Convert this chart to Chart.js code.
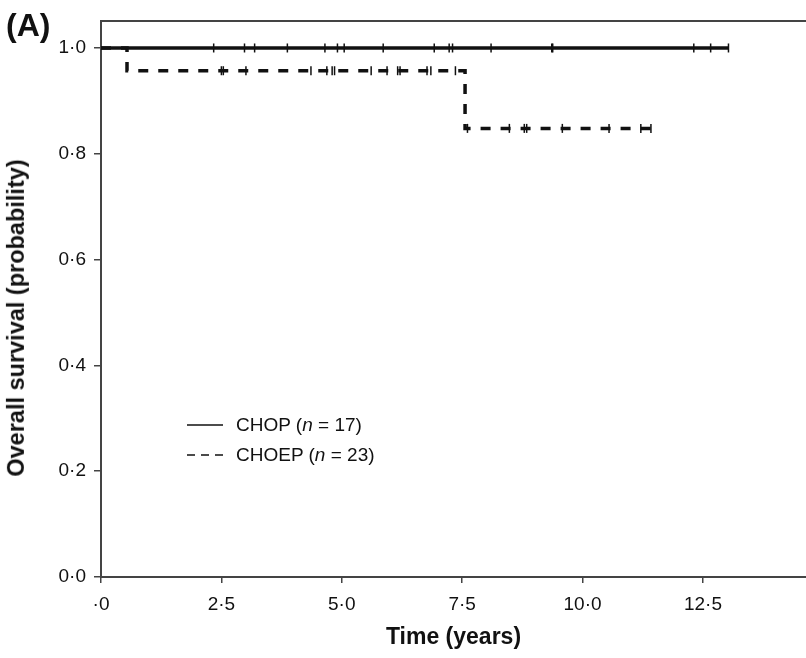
<!DOCTYPE html>
<html>
<head>
<meta charset="utf-8">
<script src="https://cdn.jsdelivr.net/npm/chart.js@4"></script>
<style>
  html, body { margin: 0; padding: 0; background: #fff; overflow: hidden; }
  #wrap { position: relative; width: 806px; height: 658px; font-family: "Liberation Sans", Arial, sans-serif; color: #111; }
  #km { display: block; }
  #panel { position: absolute; left: 6px; top: 7px; font-size: 32px; font-weight: bold; }
  #ytitle { position: absolute; left: 16px; top: 318px; transform: translate(-50%, -50%) rotate(-90deg);
    white-space: nowrap; font-size: 23.5px; font-weight: bold; line-height: 1.2; }
  .key { position: absolute; left: 187px; display: flex; align-items: center; font-size: 19px; }
  .key svg { margin-right: 13px; }
</style>
</head>
<body>
<div id="wrap">
  <canvas id="km" width="806" height="658"></canvas>
  <div id="panel">(A)</div>
  <div id="ytitle">Overall survival (probability)</div>
  <div class="key" style="top:414px"><svg width="36" height="4"><line x1="0" y1="2" x2="36" y2="2" stroke="#111" stroke-width="1.5"/></svg>CHOP (<i>n</i>&nbsp;= 17)</div>
  <div class="key" style="top:444px"><svg width="36" height="4"><line x1="0" y1="2" x2="36" y2="2" stroke="#111" stroke-width="1.5" stroke-dasharray="8 6"/></svg>CHOEP (<i>n</i>&nbsp;= 23)</div>
</div>
<script>
  // Kaplan-Meier steps (time in years, survival probability)
  const chopTimes = [0, 13.03];
  const chopSurv = [1, 1];
  const choepTimes = [0, 0.54, 7.56, 11.42];
  const choepSurv = [1, 0.957, 0.848, 0.848];

  // censored observations (+ marks)
  const chopCensor = [2.34, 2.98, 3.19, 3.87, 4.65, 4.91, 5.05, 5.86, 6.92, 7.23, 7.30, 8.10, 9.36, 9.38, 12.31, 12.66, 13.03];
  const choepCensor = [2.50, 2.54, 3.01, 4.36, 4.69, 4.80, 4.85, 5.61, 5.94, 6.16, 6.21, 6.77, 6.85, 7.36,
    7.61, 8.48, 8.79, 8.84, 9.58, 10.55, 11.21, 11.42];

  const xMax = 14.64;
  const yMax = 1.051;

  const INK = "#111";
  const AXIS = "#444";
  const FONT = "'Liberation Sans', Arial, sans-serif";

  function survAt(times, surv, t) {
    let s = surv[0];
    for (let i = 0; i < times.length; i++) {
      if (times[i] <= t) s = surv[i];
    }
    return s;
  }

  function points(times, surv) {
    return times.map((t, i) => ({ x: t, y: surv[i] }));
  }

  function censorPoints(list, times, surv) {
    return list.map((t) => ({ x: t, y: survAt(times, surv, t) }));
  }

  function fmt(v) {
    if (v === 0 && this.axis === "x") return "·0";
    return Number(v).toFixed(1).replace(".", "·");
  }

  // keep the plot box flush with the canvas edge
  function flatX(height) {
    return (s) => {
      s.height = height;
      s.paddingLeft = 0;
      s.paddingRight = 0;
    };
  }

  const mark = {
    type: "scatter",
    showLine: false,
    pointStyle: "line",
    rotation: 90,
    pointRadius: 4.5,
    borderWidth: 1.5,
    borderColor: INK,
    order: 0,
  };

  new Chart(document.getElementById("km"), {
    type: "line",
    data: {
      datasets: [
        {
          label: "CHOP",
          data: points(chopTimes, chopSurv),
          stepped: "before",
          borderColor: INK,
          borderWidth: 3.5,
          pointRadius: 0,
          order: 2,
        },
        {
          label: "CHOEP",
          data: points(choepTimes, choepSurv),
          stepped: "before",
          borderColor: INK,
          borderWidth: 3.5,
          borderDash: [10, 10],
          pointRadius: 0,
          order: 2,
        },
        Object.assign({ label: "CHOP censored", data: censorPoints(chopCensor, chopTimes, chopSurv) }, mark),
        Object.assign({ label: "CHOEP censored", data: censorPoints(choepCensor, choepTimes, choepSurv) }, mark),
      ],
    },
    options: {
      responsive: false,
      animation: false,
      layout: { autoPadding: false, padding: { top: 21, right: 0, left: 0, bottom: 0 } },
      plugins: { legend: { display: false }, tooltip: { enabled: false } },
      scales: {
        x: {
          type: "linear",
          min: 0,
          max: xMax,
          afterFit: flatX(81),
          border: { color: AXIS, width: 2 },
          grid: { drawOnChartArea: false, color: AXIS, tickLength: 6, lineWidth: 1.5 },
          ticks: {
            stepSize: 2.5,
            includeBounds: false,
            color: INK,
            padding: 10,
            maxRotation: 0,
            font: { family: FONT, size: 19 },
            callback: fmt,
          },
          title: {
            display: true,
            text: "Time (years)",
            color: INK,
            padding: { top: 0, bottom: 7 },
            font: { family: FONT, size: 23, weight: "bold" },
          },
        },
        xTop: {
          type: "linear",
          position: "top",
          min: 0,
          max: xMax,
          afterFit: flatX(0),
          border: { color: AXIS, width: 2 },
          grid: { display: false, drawTicks: false },
          ticks: { display: false, padding: 0 },
        },
        y: {
          min: 0,
          max: yMax,
          afterFit: (s) => { s.width = 101; },
          border: { color: AXIS, width: 2 },
          grid: { drawOnChartArea: false, color: AXIS, tickLength: 7, lineWidth: 1.5 },
          ticks: {
            stepSize: 0.2,
            includeBounds: false,
            color: INK,
            padding: 8,
            font: { family: FONT, size: 19 },
            callback: fmt,
          },
        },
      },
    },
  });
</script>
</body>
</html>
